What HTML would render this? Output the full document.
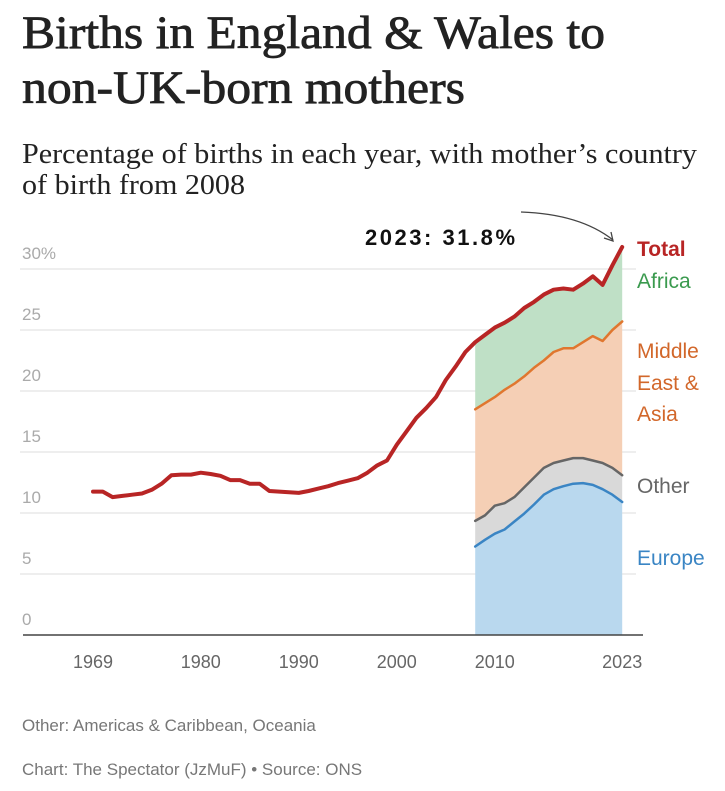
<!DOCTYPE html>
<html><head><meta charset="utf-8"><style>
html,body{margin:0;padding:0;background:#fff;width:725px;height:791px;overflow:hidden}
svg{display:block}
.serif{font-family:"Liberation Serif",serif;fill:#222}
.sans{font-family:"Liberation Sans",sans-serif}
</style></head><body>
<svg id="chart" width="725" height="791" viewBox="0 0 725 791">
<text class="serif" x="22" y="48" font-size="47" stroke="#222" stroke-width="0.8" textLength="583" lengthAdjust="spacingAndGlyphs">Births in England &amp; Wales to</text>
<text class="serif" x="22" y="103" font-size="47" stroke="#222" stroke-width="0.8" textLength="443" lengthAdjust="spacingAndGlyphs">non-UK-born mothers</text>
<text class="serif" x="22" y="163" font-size="29" textLength="675" lengthAdjust="spacingAndGlyphs">Percentage of births in each year, with mother’s country</text>
<text class="serif" x="22" y="194" font-size="29" textLength="223" lengthAdjust="spacingAndGlyphs">of birth from 2008</text>
<g id="grid"></g>
<g id="areas"></g>
<g id="lines"></g>
<g id="xaxis"></g>
<text class="sans" x="365" y="245" font-size="22" font-weight="bold" fill="#111" textLength="150" lengthAdjust="spacing">2023: 31.8%</text>
<path d="M521 212 Q580 214 613 240" fill="none" stroke="#444" stroke-width="1.3"/>
<path d="M604 238 L613 241 L611 232" fill="none" stroke="#444" stroke-width="1.3"/>
<g class="sans" font-size="21">
<text x="637" y="256" fill="#b82525" font-weight="bold">Total</text>
<text x="637" y="288" fill="#3a9a4e">Africa</text>
<text x="637" y="358" fill="#d2672a">Middle</text>
<text x="637" y="390" fill="#d2672a">East &amp;</text>
<text x="637" y="421" fill="#d2672a">Asia</text>
<text x="637" y="493" fill="#666">Other</text>
<text x="637" y="565" fill="#3a85c4">Europe</text>
</g>
<text class="sans" x="22" y="731" font-size="17" fill="#777">Other: Americas &amp; Caribbean, Oceania</text>
<text class="sans" x="22" y="775" font-size="17" fill="#777">Chart: The Spectator (JzMuF) • Source: ONS</text>
</svg>
<script>
const totalYears=[1969,1970,1971,1972,1973,1974,1975,1976,1977,1978,1979,1980,1981,1982,1983,1984,1985,1986,1987,1988,1989,1990,1991,1992,1993,1994,1995,1996,1997,1998,1999,2000,2001,2002,2003,2004,2005,2006,2007,2008,2009,2010,2011,2012,2013,2014,2015,2016,2017,2018,2019,2020,2021,2022,2023];
const totalValues=[11.75,11.75,11.3,11.4,11.5,11.6,11.9,12.4,13.1,13.15,13.15,13.3,13.2,13.05,12.7,12.7,12.4,12.4,11.8,11.75,11.7,11.65,11.8,12.0,12.2,12.45,12.65,12.85,13.3,13.9,14.3,15.6,16.7,17.8,18.6,19.5,20.9,22.0,23.2,24.0,24.6,25.2,25.6,26.1,26.8,27.3,27.9,28.3,28.4,28.3,28.8,29.4,28.7,30.3,31.8];
const stackYears=[2008,2009,2010,2011,2012,2013,2014,2015,2016,2017,2018,2019,2020,2021,2022,2023];
const europeCum=[7.25,7.8,8.3,8.65,9.3,9.95,10.7,11.5,11.95,12.2,12.4,12.45,12.3,11.95,11.5,10.9];
const otherCum=[9.35,9.8,10.6,10.8,11.3,12.1,12.9,13.7,14.1,14.3,14.5,14.5,14.3,14.1,13.7,13.1];
const meAsiaCum=[18.5,19.0,19.5,20.1,20.6,21.2,21.9,22.5,23.2,23.5,23.5,24.0,24.5,24.1,25.0,25.7];
const africaCum=totalValues.slice(totalYears.indexOf(2008));
const yTicks=[0,5,10,15,20,25,30];
const yTickLabels=["0","5","10","15","20","25","30%"];
const xTicks=[1969,1980,1990,2000,2010,2023];

const NS="http://www.w3.org/2000/svg";
const x=yr=>93+(yr-1969)*9.8;
const y=v=>635-v*12.2;
function mk(tag,attrs,parent){const e=document.createElementNS(NS,tag);for(const k in attrs)e.setAttribute(k,attrs[k]);parent.appendChild(e);return e;}
const grid=document.getElementById('grid');
yTicks.forEach((t,i)=>{
  if(t>0){const l=mk('line',{x1:20,x2:636,y1:y(t),y2:y(t),stroke:'#e4e4e4','stroke-width':1.3},grid);
  
  }
  const tx=mk('text',{x:22,y:y(t)-10,'font-size':17,fill:'#aaa','font-family':'Liberation Sans, sans-serif'},grid);
  tx.textContent=yTickLabels[i];
  
  
});
const pts=(ys,vals)=>ys.map((yr,i)=>x(yr).toFixed(1)+','+y(vals[i]).toFixed(1));
const areas=document.getElementById('areas');
function band(top,bot,fill,name){
  let d='M'+pts(stackYears,top).join(' L');
  if(bot){d+=' L'+pts(stackYears,bot).reverse().join(' L');}
  else{d+=' L'+x(2023)+','+y(0)+' L'+x(2008)+','+y(0);}
  const p=mk('path',{d:d+'Z',fill:fill},areas);
  
  
}
band(africaCum,meAsiaCum,'#bfe0c6','area-africa');
band(meAsiaCum,otherCum,'#f5cfb5','area-middle-east-asia');
band(otherCum,europeCum,'#d9d9d9','area-other');
band(europeCum,null,'#b9d8ee','area-europe');
const lines=document.getElementById('lines');
function line(ys,vals,color,w,name){
  const p=mk('polyline',{points:pts(ys,vals).join(' '),fill:'none',stroke:color,'stroke-width':w,'stroke-linejoin':'round','stroke-linecap':'round'},lines);
  
  
}
line(stackYears,europeCum,'#3a85c4',2.5,'line-europe');
line(stackYears,otherCum,'#666',2.5,'line-other');
line(stackYears,meAsiaCum,'#e0772f',2.5,'line-middle-east-asia');
line(totalYears,totalValues,'#b82525',4,'line-total');
const xa=document.getElementById('xaxis');
const ax=mk('line',{x1:23,x2:643,y1:y(0),y2:y(0),stroke:'#444','stroke-width':1.5},xa);


xTicks.forEach(t=>{
  const tx=mk('text',{x:x(t),y:668,'font-size':18,fill:'#666','text-anchor':'middle','font-family':'Liberation Sans, sans-serif'},xa);
  tx.textContent=t;
  
  
});
</script>
</body></html>
